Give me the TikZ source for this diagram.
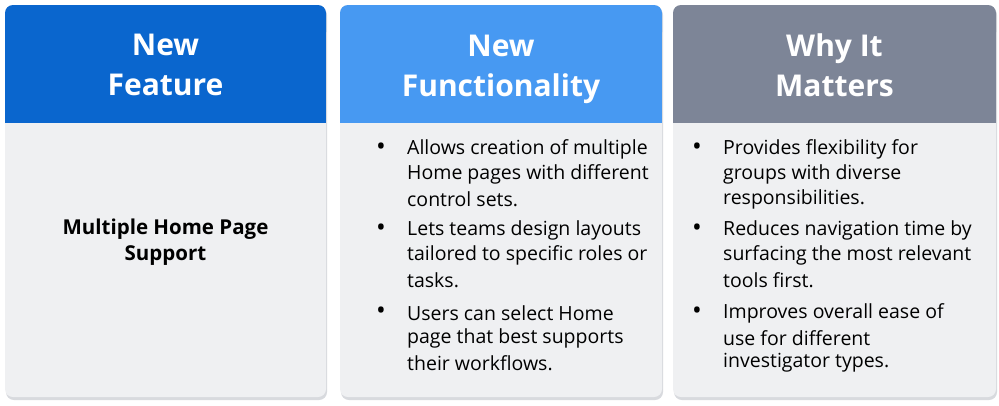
\documentclass[tikz,border=0pt]{standalone}
\usepackage{fontspec}
\setmainfont{Open Sans}
\definecolor{hA}{HTML}{0A66CE}
\definecolor{hB}{HTML}{4799F2}
\definecolor{hC}{HTML}{7D8597}
\definecolor{bodyc}{HTML}{EFF0F2}
\definecolor{shad}{HTML}{D8DADE}
\tikzset{
 head/.style={font=\fontsize{30}{40}\selectfont\bfseries, text=white, align=center},
 line/.style={font=\fontsize{19.5}{25}\selectfont, anchor=west, inner sep=0pt},
 bul/.style={font=\fontsize{26}{25}\selectfont, anchor=center, inner sep=0pt}
}
\begin{document}
\begin{tikzpicture}[x=1pt,y=-1pt]
\useasboundingbox (0,0) rectangle (999,405);
\fill[white] (0,0) rectangle (999,405);
\foreach \xa/\xb/\c in {5/326/hA,340/662/hB,673/996/hC}{
 \fill[shad,rounded corners=8] (\xa+1,7) rectangle (\xb+1,400);
 \fill[bodyc,rounded corners=8] (\xa,5) rectangle (\xb,397);
 \fill[\c,rounded corners=8] (\xa,5) rectangle (\xb,40);
 \fill[\c] (\xa,25) rectangle (\xb,123);
}
\node[head] (h1) at (165.5,65) {New\\Feature};
\node[head] (h2) at (501,69) {New\\Functionality};
\node[head] (h3) at (834.5,65) {Why It\\Matters};
\node[font=\fontsize{20.5}{26}\selectfont\bfseries, align=center] (b1) at (165.5,242) {Multiple Home Page\\Support};
% column 2
\foreach \y in {149,230,313}{\node[bul] at (381,\y) {•};}
\foreach \t [count=\i] in {Allows creation of multiple,Home pages with different,control sets.}{
 \node[line] (a\i) at (407,124+25*\i) {\t};}
\foreach \t [count=\i] in {Lets teams design layouts,tailored to specific roles or,tasks.}{
 \node[line] (c\i) at (407,205+25*\i) {\t};}
\foreach \t [count=\i] in {Users can select Home,page that best supports,their workflows.}{
 \node[line] (d\i) at (407,288+25*\i) {\t};}
% column 3
\foreach \y in {149,230,313}{\node[bul] at (697,\y) {•};}
\foreach \t [count=\i] in {Provides flexibility for,groups with diverse,responsibilities.}{
 \node[line] (e\i) at (723,124+25*\i) {\t};}
\foreach \t [count=\i] in {Reduces navigation time by,surfacing the most relevant,tools first.}{
 \node[line] (f\i) at (723,205+25*\i) {\t};}
\foreach \t [count=\i] in {Improves overall ease of,use for different,investigator types.}{
 \node[line] (g\i) at (723,288+25*\i) {\t};}
\end{tikzpicture}
\end{document}
